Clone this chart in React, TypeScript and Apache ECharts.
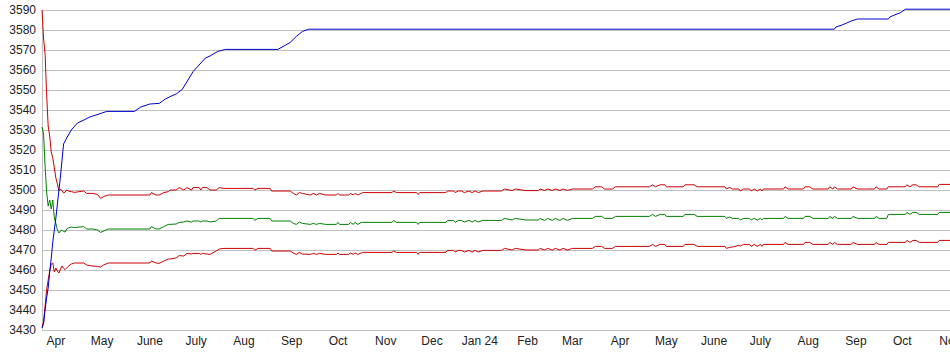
import React, { useEffect, useRef } from "react";
import * as echarts from "echarts";

// Day offsets are counted from this date
const startDate = "2023-03-23";
const endDate = "2024-11-01";

// Month tick dates and their labels
const monthTickDates = [
  "2023-04-01", "2023-05-01", "2023-06-01", "2023-07-01", "2023-08-01", "2023-09-01",
  "2023-10-01", "2023-11-01", "2023-12-01", "2024-01-01", "2024-02-01", "2024-03-01",
  "2024-04-01", "2024-05-01", "2024-06-01", "2024-07-01", "2024-08-01", "2024-09-01",
  "2024-10-01", "2024-11-01",
];
const monthTickLabels = [
  "Apr", "May", "June", "July", "Aug", "Sep", "Oct", "Nov", "Dec", "Jan 24", "Feb", "Mar",
  "Apr", "May", "June", "July", "Aug", "Sep", "Oct", "Nov",
];

// Band series (upper red, green middle, lower red) sampled on shared days
const bandDays = [
  0, 1, 2, 3, 4, 5, 6, 7, 8, 9, 10, 11, 12, 13, 14, 15, 16, 17, 19, 21, 27, 29, 33, 36, 38, 40, 43,
  70, 71, 74, 76, 79, 82, 83, 87, 89, 92, 94, 97, 98, 102, 103, 104, 107, 109, 113, 115, 118,
  137, 138, 140, 148, 149, 161, 163, 165, 167, 169, 174, 176, 178, 180, 184, 191, 192, 193,
  199, 200, 202, 203, 205, 207, 208, 227, 228, 230, 243, 244, 245, 262, 263, 267, 268, 270,
  272, 274, 277, 279, 281, 283, 286, 298, 300, 305, 307, 314, 322, 323, 326, 328, 331, 333,
  336, 338, 341, 344, 357, 359, 363, 365, 370, 372, 394, 396, 398, 401, 404, 405, 416, 417,
  423, 425, 443, 444, 446, 448, 452, 453, 455, 459, 460, 462, 464, 466, 467, 468, 481, 482,
  484, 494, 495, 498, 500, 510, 511, 513, 514, 516, 525, 526, 529, 540, 541, 543, 548, 549,
  560, 561, 563, 565, 567, 569, 581, 582, 589,
];
const upperVals = [
  3590, 3576, 3568, 3548, 3532, 3527, 3519, 3516, 3511, 3506, 3503, 3499.5, 3500.5, 3499.5, 3498.5, 3499, 3500, 3499.5, 3499.2, 3498.8, 3499.5, 3498.3, 3498.3, 3497.8, 3495.8, 3496.7, 3497.5,
  3497.5, 3498.7, 3497.5, 3497.5, 3498.7, 3499.2, 3500, 3500, 3501.2, 3500, 3501.2, 3500, 3501.2, 3501.2, 3500, 3501.2, 3501.2, 3500, 3500, 3501.2, 3500.8,
  3500.8, 3500, 3500.8, 3500.8, 3499.5, 3499.5, 3498.3, 3497.5, 3498.7, 3498.3, 3497.5, 3498.3, 3497.5, 3498.3, 3497.5, 3497.5, 3498.3, 3497.5,
  3497.5, 3498.3, 3497.5, 3498.3, 3497.5, 3498.3, 3498.7, 3498.7, 3499.5, 3498.7, 3498.7, 3497.7, 3498.7, 3498.7, 3499.5, 3499.5, 3498.7, 3499.5,
  3499.5, 3498.7, 3499.5, 3498.7, 3499.5, 3498.7, 3499.5, 3499.5, 3500.5, 3499.7, 3500.5, 3499.7, 3499.7, 3500.5, 3499.8, 3500.5, 3499.8, 3500.5,
  3499.8, 3500.5, 3499.8, 3500.5, 3500.5, 3501.6, 3501.6, 3500.5, 3500.5, 3501.6, 3501.6, 3502.6, 3501.6, 3502.6, 3502.6, 3501.6, 3501.6, 3502.6,
  3502.6, 3501.6, 3501.6, 3500.5, 3501.3, 3500.5, 3500.5, 3499.5, 3500.5, 3500.5, 3499.5, 3500.5, 3499.5, 3500.5, 3499.5, 3500.5, 3500.5, 3501.6,
  3500.5, 3500.5, 3501.6, 3501.6, 3500.5, 3500.5, 3501.6, 3500.5, 3501.6, 3500.5, 3500.5, 3501.6, 3500.5, 3500.5, 3501.6, 3500.5, 3500.5, 3501.6,
  3501.6, 3502.6, 3501.6, 3502.6, 3502.6, 3501.6, 3501.6, 3502.8, 3502.8,
];
const midVals = [
  3531.5, 3528, 3512, 3499, 3492, 3495, 3490.5, 3495, 3486, 3483.3, 3480, 3478.5, 3479.5, 3480, 3479.2, 3479, 3480.5, 3481, 3481.5, 3481.2, 3481.7, 3480.5, 3480.5, 3480, 3478.8, 3479.5, 3480.5,
  3480.5, 3481.7, 3480.5, 3480.5, 3481.7, 3482.8, 3482.8, 3483, 3483.8, 3484, 3484.5, 3484, 3484.5, 3484.5, 3484, 3484.5, 3484.5, 3484, 3484.5, 3485.8, 3485.8,
  3485.8, 3484.8, 3485.8, 3485.8, 3484.5, 3484.5, 3483.3, 3482.8, 3484, 3483.3, 3482.8, 3483.3, 3482.8, 3483.3, 3482.8, 3482.8, 3483.8, 3482.8,
  3482.8, 3483.8, 3482.8, 3483.8, 3482.8, 3483.8, 3483.8, 3483.8, 3484.8, 3483.8, 3483.8, 3482.8, 3483.8, 3483.8, 3484.8, 3484.8, 3483.8, 3484.8,
  3484.8, 3484, 3484.8, 3484, 3484.8, 3484, 3484.8, 3484.8, 3485.8, 3485, 3485.8, 3485, 3485, 3485.8, 3484.8, 3485.8, 3484.8, 3485.8,
  3484.8, 3485.8, 3484.8, 3485.8, 3485.8, 3486.8, 3486.8, 3485.8, 3485.8, 3486.8, 3486.8, 3487.8, 3486.8, 3487.8, 3487.8, 3486.8, 3486.8, 3487.8,
  3487.8, 3486.8, 3486.8, 3485.8, 3486.5, 3485.8, 3485.8, 3485, 3485.8, 3485.8, 3485, 3485.8, 3485, 3485.8, 3485, 3485.8, 3485.8, 3486.8,
  3485.8, 3485.8, 3486.8, 3486.8, 3485.8, 3485.8, 3486.8, 3485.8, 3486.8, 3485.8, 3485.8, 3486.8, 3485.8, 3485.8, 3486.8, 3485.8, 3485.8, 3487.8,
  3487.8, 3488.8, 3487.8, 3488.8, 3488.8, 3487.8, 3487.8, 3488.8, 3488.8,
];
const lowerVals = [
  3431.5, 3434, 3442, 3450, 3455, 3459.5, 3463, 3463.5, 3459, 3461, 3459.5, 3458.5, 3460.5, 3462, 3460.8, 3460.2, 3461, 3461.8, 3463, 3463.5, 3463.5, 3462.5, 3462, 3461.8, 3461.5, 3462.5, 3463.5,
  3463.5, 3464.5, 3463.5, 3463.3, 3464.5, 3465.5, 3465.5, 3466, 3467.2, 3467, 3468.3, 3468, 3468.3, 3468.3, 3467.8, 3468.3, 3468, 3467.8, 3469.5, 3470.5, 3470.8,
  3470.8, 3469.8, 3470.8, 3470.8, 3469.5, 3469.5, 3468.5, 3467.8, 3468.8, 3468, 3467.8, 3468.3, 3467.8, 3468.3, 3467.8, 3467.8, 3468.5, 3467.8,
  3467.8, 3468.5, 3467.8, 3468.5, 3467.8, 3468.5, 3468.8, 3468.8, 3469.5, 3468.8, 3468.8, 3467.8, 3468.8, 3468.8, 3469.8, 3469.8, 3469, 3469.8,
  3469.8, 3469, 3469.8, 3469, 3469.8, 3469, 3469.8, 3469.8, 3470.8, 3470, 3470.8, 3470, 3470, 3470.8, 3470, 3470.8, 3470, 3470.8,
  3470, 3470.8, 3470, 3470.8, 3470.8, 3471.8, 3471.8, 3470.8, 3470.8, 3471.8, 3471.8, 3472.8, 3471.8, 3472.8, 3472.8, 3471.8, 3471.8, 3472.8,
  3472.8, 3471.8, 3471.8, 3470.8, 3471.3, 3471.5, 3472.3, 3472, 3472.8, 3472.8, 3471.8, 3472.8, 3471.8, 3472.8, 3471.8, 3472.8, 3472.8, 3473.8,
  3472.8, 3472.8, 3473.8, 3473.8, 3472.8, 3472.8, 3473.8, 3472.8, 3473.8, 3472.8, 3472.8, 3473.8, 3472.8, 3472.8, 3473.8, 3472.8, 3472.8, 3473.8,
  3473.8, 3474.8, 3473.8, 3474.8, 3474.8, 3473.8, 3473.8, 3474.8, 3474.8,
];

// Blue rising series
const blueDays = [
  0, 1, 2, 3, 4, 5, 6, 7, 8, 9, 10, 11, 12, 13, 14, 16, 19, 23, 28, 31, 37, 42, 60, 64, 70, 76,
  80, 84, 87, 91, 98, 106, 109, 114, 119, 153, 157, 161, 165, 169, 173, 514, 515, 519, 522,
  525, 529, 549, 550, 553, 557, 560, 589,
];
const blueVals = [
  3431, 3433, 3440, 3446, 3451, 3459, 3466, 3474, 3480, 3486, 3493, 3500, 3507, 3515, 3523, 3526, 3530, 3533.5, 3535.3, 3536.5, 3538, 3539.3, 3539.3, 3541.5, 3543, 3543.3,
  3545.5, 3547, 3548, 3550.3, 3559.2, 3566, 3567, 3569.3, 3570.3, 3570.3, 3572, 3573.8, 3576.8, 3579.3, 3580.4, 3580.4, 3581.5, 3582.5, 3583.5,
  3584.5, 3585.5, 3585.5, 3586.5, 3587.5, 3588.7, 3590.4, 3590.4,
];

const yMin = 3430;
const yMax = 3590;
const yStep = 10;

const DAY = 86400000;
const dayOf = (s: string) => Math.round((Date.parse(s) - Date.parse(startDate)) / DAY);

export default function App() {
  const ref = useRef<HTMLDivElement>(null);

  useEffect(() => {
    if (!ref.current) return;
    const chart = echarts.init(ref.current, undefined, { renderer: "svg" });
    const tickDays = monthTickDates.map(dayOf);
    const labelFor = (v: number) => {
      const i = tickDays.indexOf(Math.round(v));
      return i >= 0 ? monthTickLabels[i] : "";
    };
    const font = "'Liberation Sans', Arial, sans-serif";
    const pair = (days: number[], vals: number[]) => days.map((d, i) => [d, vals[i]]);
    const lineSeries = (name: string, data: number[][], color: string) => ({
      name,
      type: "line",
      data,
      showSymbol: false,
      symbol: "none",
      clip: false,
      lineStyle: { color, width: 1 },
      emphasis: { disabled: true },
    });

    chart.setOption({
      animation: false,
      backgroundColor: "#ffffff",
      grid: { left: 42, right: 0, top: 10, bottom: 25, containLabel: false, outerBoundsMode: "none" },
      xAxis: {
        type: "value",
        min: 0,
        max: dayOf(endDate),
        axisLine: { show: false },
        axisTick: { show: false },
        splitLine: { show: false },
        axisLabel: {
          customValues: tickDays,
          formatter: (v: number) => labelFor(v),
          fontSize: 12,
          fontFamily: font,
          color: "#222",
          margin: 5,
          showMaxLabel: true,
          alignMaxLabel: "center",
          hideOverlap: false,
        },
      },
      yAxis: {
        type: "value",
        min: yMin,
        max: yMax,
        interval: yStep,
        axisLine: { show: true, lineStyle: { color: "#c0c0c0", width: 1 } },
        axisTick: { show: false },
        splitLine: { show: true, lineStyle: { color: "#c0c0c0", width: 1 } },
        axisLabel: {
          formatter: (v: number) => String(v),
          fontSize: 12,
          fontFamily: font,
          color: "#222",
          margin: 6,
        },
      },
      series: [
        lineSeries("Upper", pair(bandDays, upperVals), "#cc0000"),
        lineSeries("Middle", pair(bandDays, midVals), "#008000"),
        lineSeries("Lower", pair(bandDays, lowerVals), "#cc0000"),
        lineSeries("Level", pair(blueDays, blueVals), "#0000cc"),
      ],
    });

    return () => chart.dispose();
  }, []);

  return (
    <div
      ref={ref}
      style={{ position: "fixed", left: 0, top: 0, width: 950, height: 355, background: "#fff" }}
    />
  );
}
